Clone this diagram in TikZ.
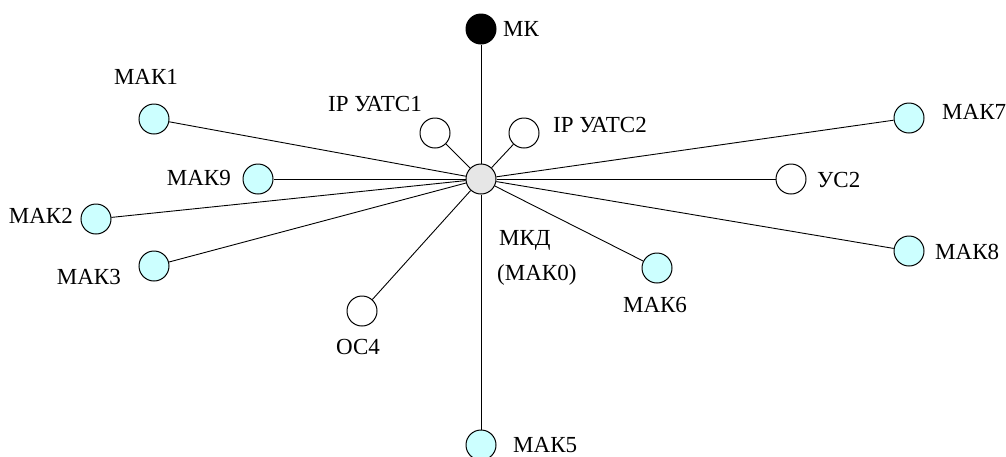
\documentclass[tikz,border=0pt]{standalone}
\usepackage{fontspec}
\setmainfont{Liberation Serif}
\definecolor{makcyan}{RGB}{204,255,255}
\definecolor{hubgray}{RGB}{230,230,230}
\usetikzlibrary{positioning}

\begin{document}
\begin{tikzpicture}[x=1pt,y=-1pt,
  stn/.style={circle,draw,line width=1pt,minimum size=30pt,inner sep=0pt,fill=white},
  mak/.style={stn,fill=makcyan},
  lbl/.style={font=\fontsize{23}{24}\selectfont,inner sep=0pt,text height=15pt,text depth=0pt},
  link/.style={line width=0.9pt}]
  \useasboundingbox (0,0) rectangle (1006,456);
  % hub and stations
  \node[stn,fill=hubgray] (mkd) at (481,179) {};
  \node[stn,fill=black] (mk) at (481,29) {};
  \node[mak] (mak1) at (154,119) {};
  \node[stn] (uats1) at (435,133) {};
  \node[stn] (uats2) at (524,133) {};
  \node[mak] (mak7) at (909,118) {};
  \node[mak] (mak9) at (258,179) {};
  \node[stn] (us2) at (791,179) {};
  \node[mak] (mak2) at (96,219) {};
  \node[mak] (mak3) at (154,266) {};
  \node[mak] (mak8) at (909,251) {};
  \node[mak] (mak6) at (657,268) {};
  \node[stn] (os4) at (362,311) {};
  \node[mak] (mak5) at (481,445) {};
  % links to the hub
  \foreach \n in {mk,mak1,uats1,uats2,mak7,mak9,us2,mak2,mak3,mak8,mak6,os4,mak5}
    \draw[link] (mkd) -- (\n);
  % labels
  \node[lbl,anchor=west] (mkL) at (503,29) {МК};
  \node[lbl] (mak1L) at (146,77) {МАК1};
  \node[lbl] (uats1L) at (375,104) {IP УАТС1};
  \node[lbl,anchor=west] (uats2L) at (553,125) {IP УАТС2};
  \node[lbl,anchor=west] (mak7L) at (942,112) {МАК7};
  \node[lbl,anchor=east] (mak9L) at (231,178) {МАК9};
  \node[lbl,anchor=west] (us2L) at (817,180) {УС2};
  \node[lbl,anchor=east] (mak2L) at (73,216) {МАК2};
  \node[lbl,anchor=east] (mak3L) at (121,277) {МАК3};
  \node[lbl,anchor=west] (mak8L) at (935,252) {МАК8};
  \node[lbl] (mak6L) at (655,305) {МАК6};
  \node[lbl] (os4L) at (358,347) {ОС4};
  \node[lbl,anchor=west] (mkdL) at (499,238) {МКД};
  \node[lbl,anchor=west] (mak0L) at (497,273) {(МАК0)};
  \node[lbl,anchor=west] (mak5L) at (513,445) {МАК5};
\end{tikzpicture}
\end{document}
